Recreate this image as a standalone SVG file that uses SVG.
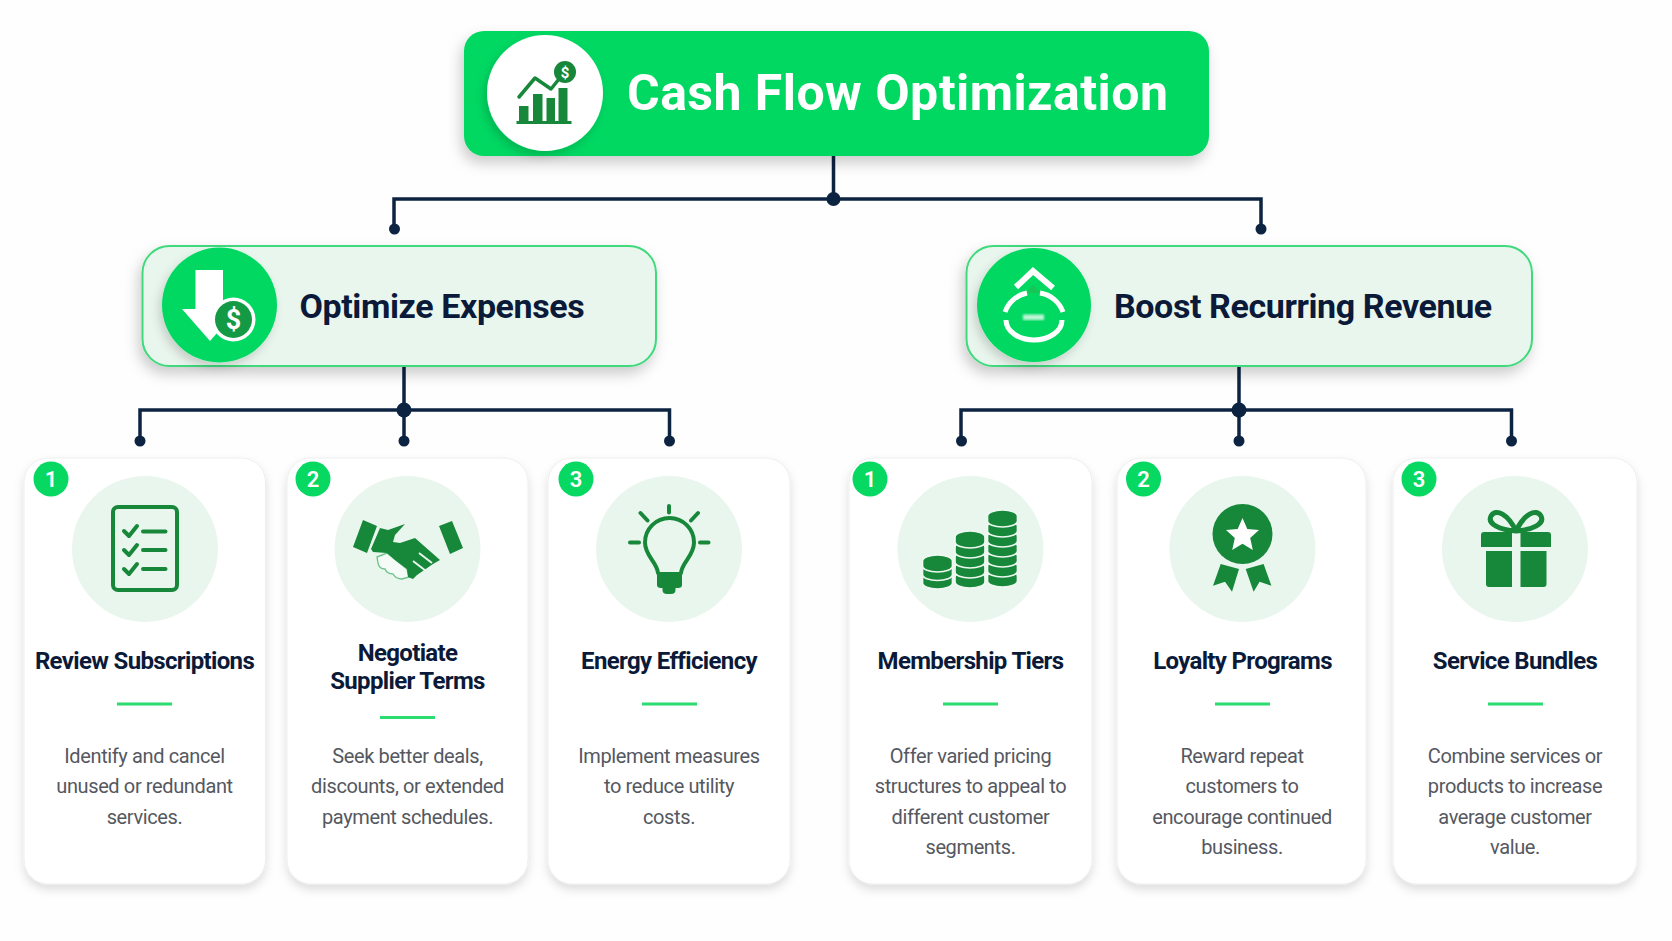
<svg xmlns="http://www.w3.org/2000/svg" width="1672" height="941" viewBox="0 0 1672 941">
<style>
text{font-family:Roboto,"Liberation Sans",sans-serif;text-anchor:middle}
.main{font-size:50px;font-weight:700;fill:#fff;text-anchor:start;letter-spacing:.45px}
.sub{font-size:34px;font-weight:700;fill:#0b1a38;text-anchor:start;letter-spacing:-.4px}
.ttl{font-size:24px;font-weight:700;fill:#0b1a38;letter-spacing:-.65px}
.dsc{font-size:20px;fill:#55585f;letter-spacing:-.38px}
.num{font-size:22px;font-weight:600;fill:#fff}
.card{fill:#fff;stroke:#eeeeef;stroke-width:1;filter:url(#sc)}
.subbox{fill:#e9f6ed;stroke:#3fd97c;stroke-width:2;filter:url(#sm)}
.disc{fill:#06d862}
.soft{fill:#e9f6ed}
.rule{fill:#2bdc70}
.ink{fill:#17873a}
.inkline{fill:none;stroke:#17873a;stroke-width:4;stroke-linecap:round;stroke-linejoin:round}
.wire{fill:none;stroke:#0d2342;stroke-width:3.5}
.dot{fill:#0d2342}
.ring{fill:none;stroke:#fff;stroke-width:5}
</style>
<defs>
<filter id="sc" x="-15%" y="-10%" width="130%" height="120%"><feDropShadow dx="0" dy="5" stdDeviation="5" flood-color="#000" flood-opacity=".13"/></filter>
<filter id="sm" x="-10%" y="-20%" width="120%" height="150%"><feDropShadow dx="-3" dy="7" stdDeviation="7" flood-color="#000" flood-opacity=".2"/></filter>
<filter id="sd" x="-30%" y="-30%" width="160%" height="160%"><feDropShadow dx="-3" dy="5" stdDeviation="5" flood-color="#000" flood-opacity=".16"/></filter>
<filter id="bl"><feGaussianBlur stdDeviation="1.2"/></filter>
<path id="coin" class="ink" stroke="#eef8f1" stroke-width="1.7" d="M-15,0A15,6 0 0 1 15,0V5A15,6 0 0 1 -15,5Z"/>
</defs>
<rect width="1672" height="941" fill="#fdfefd"/>
<g id="connectors">
<path class="wire" d="M833.500,156V199M394,228V199H1261V228"/>
<path class="wire" d="M404,366V441M140,441V410H669.500V441"/>
<path class="wire" d="M1239,366V441M961,441V410H1511.500V441"/>
<circle class="dot" cx="833.500" cy="199" r="7"/><circle class="dot" cx="394.500" cy="229" r="5.500"/><circle class="dot" cx="1261" cy="229" r="5.500"/>
<circle class="dot" cx="404" cy="410" r="7.500"/><circle class="dot" cx="140" cy="441" r="5.500"/><circle class="dot" cx="404" cy="441" r="5.500"/><circle class="dot" cx="669.500" cy="441" r="5.500"/>
<circle class="dot" cx="1239" cy="410" r="7.500"/><circle class="dot" cx="961.500" cy="441" r="5.500"/><circle class="dot" cx="1239" cy="441" r="5.500"/><circle class="dot" cx="1511.500" cy="441" r="5.500"/>
</g>
<g id="node-root">
<rect x="464" y="31" width="745" height="125" rx="20" fill="#06d862" filter="url(#sm)"/>
<circle cx="545" cy="93" r="58" fill="#fff" filter="url(#sd)"/>
<path class="ink" d="M519,106h9.500v16h-9.500zM533,94h9.500v28h-9.500zM546.500,98h8.500v24h-8.500zM558.500,88h9v34h-9zM516.500,121h55v3h-55z"/>
<path class="inkline" style="stroke-width:3.500" d="M519,97L535,78L551,89L563,74"/>
<circle class="ink" cx="565" cy="72" r="11"/>
<text x="565" y="77.500" style="font-size:15px;font-weight:700;fill:#fff">$</text>
<text class="main" x="627" y="109.500">Cash Flow Optimization</text>
</g>
<g id="node-expenses">
<rect class="subbox" x="142.500" y="246" width="513.500" height="120" rx="27"/>
<circle class="disc" cx="219.500" cy="305" r="57.500" filter="url(#sd)"/>
<path fill="#fff" d="M195.500,270H223V309H238L210,341L182,309H195.500Z"/>
<circle cx="233.500" cy="319.500" r="22" fill="#fff"/>
<circle cx="233.500" cy="319.500" r="18.500" fill="#149a44"/>
<text x="233.500" y="329" style="font-size:27px;font-weight:700;fill:#fff">$</text>
<text class="sub" x="299.500" y="317.500">Optimize Expenses</text>
</g>
<g id="node-revenue">
<rect class="subbox" x="966.500" y="246" width="565.500" height="120" rx="27"/>
<circle class="disc" cx="1034" cy="305" r="57" filter="url(#sd)"/>
<path d="M1033,285L1026,293H1041Z" fill="#16c657"/>
<path class="ring" style="stroke-width:6" d="M1016,287L1033,271L1053,288"/>
<path class="ring" d="M1005,312A29,29 0 0 1 1027,293M1040,293A29,29 0 0 1 1063,312"/>
<path class="ring" d="M1006,320A28,20 0 0 0 1062,320"/>
<rect x="1023" y="314.500" width="21" height="5.500" fill="#fff" opacity=".75" filter="url(#bl)"/>
<text class="sub" x="1114" y="317.500">Boost Recurring Revenue</text>
</g>
<g id="card-review">
<rect class="card" x="24" y="458" width="241.500" height="426" rx="24"/>
<circle class="soft" cx="145" cy="549" r="73"/>
<circle class="disc" cx="51" cy="479" r="17.500"/><text class="num" x="51" y="487">1</text>
<rect x="113" y="507" width="64" height="83" rx="5" fill="none" stroke="#17873a" stroke-width="4"/>
<path class="inkline" d="M124,531L129,536L137,526M124,550L129,555L137,545M124,569L129,574L137,564M143,531.500H165.500M143,550H165.500M143,569H165.500"/>
<text class="ttl" x="144.500" y="668.500">Review Subscriptions</text>
<rect class="rule" x="117" y="702.500" width="55" height="3"/>
<text class="dsc" x="144.500" y="762.500">Identify and cancel</text>
<text class="dsc" x="144.500" y="793">unused or redundant</text>
<text class="dsc" x="144.500" y="823.500">services.</text>
</g>
<g id="card-negotiate">
<rect class="card" x="287" y="458" width="241" height="426" rx="24"/>
<circle class="soft" cx="407.500" cy="549" r="73"/>
<circle class="disc" cx="313" cy="479" r="17.500"/><text class="num" x="313" y="487">2</text>
<path class="ink" d="M363,520L377,526L367,553L353,547ZM439,526L452,521L463,548L450,554Z"/>
<path fill="#f5fbf6" stroke="#6fc48d" stroke-width="1.400" d="M377,557L387,553L407,569L409,577L402,579Q396,579 393,574Q387,574 385,569Q379,569 378,563Z"/>
<path class="ink" d="M380,528L388,530L405,524L395,535L393,542L400,543L415,538L440,560L433,564L417,575L413,579L408,577L407,569L395,560L387,553L373,552L371,549Z"/>
<path d="M419,553L432,563M413,561L426,571" stroke="#e9f6ed" stroke-width="2" fill="none"/>
<text class="ttl" x="407.500" y="660.500">Negotiate</text>
<text class="ttl" x="407.500" y="689">Supplier Terms</text>
<rect class="rule" x="380" y="716" width="55" height="3"/>
<text class="dsc" x="407.500" y="762.500">Seek better deals,</text>
<text class="dsc" x="407.500" y="793">discounts, or extended</text>
<text class="dsc" x="407.500" y="823.500">payment schedules.</text>
</g>
<g id="card-energy">
<rect class="card" x="548" y="458" width="242" height="426" rx="24"/>
<circle class="soft" cx="669" cy="549" r="73"/>
<circle class="disc" cx="576" cy="479" r="17.500"/><text class="num" x="576" y="487">3</text>
<path class="inkline" d="M658,573C657,562 645,556 645,542.500A24.500,24.500 0 0 1 694,542.500C694,556 682,562 681,573M669,506V512.500M640.500,513L647.500,520.500M698,513L691,520.500M630,542.500H639M700,542.500H708.500"/>
<path class="ink" d="M657,572H682V585Q682,588 678,588H661Q657,588 657,585ZM662.500,587H675.500V590Q675.500,594 671,594H667Q662.500,594 662.500,590Z"/>
<text class="ttl" x="669" y="668.500">Energy Efficiency</text>
<rect class="rule" x="642" y="702.500" width="55" height="3"/>
<text class="dsc" x="669" y="762.500">Implement measures</text>
<text class="dsc" x="669" y="793">to reduce utility</text>
<text class="dsc" x="669" y="823.500">costs.</text>
</g>
<g id="card-membership">
<rect class="card" x="849" y="458" width="243" height="426" rx="24"/>
<circle class="soft" cx="970.500" cy="549" r="73"/>
<circle class="disc" cx="870" cy="479" r="17.500"/><text class="num" x="870" y="487">1</text>
<use href="#coin" x="937.500" y="578"/><use href="#coin" x="937.500" y="569.500"/><use href="#coin" x="937.500" y="561"/>
<use href="#coin" x="970" y="577"/><use href="#coin" x="970" y="567"/><use href="#coin" x="970" y="557"/><use href="#coin" x="970" y="547"/><use href="#coin" x="970" y="537"/>
<use href="#coin" x="1002.500" y="576"/><use href="#coin" x="1002.500" y="566"/><use href="#coin" x="1002.500" y="556"/><use href="#coin" x="1002.500" y="546"/><use href="#coin" x="1002.500" y="536"/><use href="#coin" x="1002.500" y="526"/><use href="#coin" x="1002.500" y="516"/>
<text class="ttl" x="970.500" y="668.500">Membership Tiers</text>
<rect class="rule" x="943" y="702.500" width="55" height="3"/>
<text class="dsc" x="970.500" y="762.500">Offer varied pricing</text>
<text class="dsc" x="970.500" y="793">structures to appeal to</text>
<text class="dsc" x="970.500" y="823.500">different customer</text>
<text class="dsc" x="970.500" y="854">segments.</text>
</g>
<g id="card-loyalty">
<rect class="card" x="1117" y="458" width="249" height="426" rx="24"/>
<circle class="soft" cx="1242.500" cy="549" r="73"/>
<circle class="disc" cx="1143.500" cy="479" r="17.500"/><text class="num" x="1143.500" y="487">2</text>
<circle class="ink" cx="1242.500" cy="534" r="30"/>
<path fill="#fff" d="M1242.500,518L1247.300,529L1259,530L1250.200,538L1252.800,550L1242.500,543.700L1232.200,550L1234.800,538L1226,530L1237.700,529Z"/>
<path class="ink" d="M1220.700,564L1239,569L1232,591.700L1225,581.700L1213,585.700ZM1245.700,569L1263.600,564L1271.400,585.700L1259.600,581.700L1253.600,591.700Z"/>
<text class="ttl" x="1242.500" y="668.500">Loyalty Programs</text>
<rect class="rule" x="1215" y="702.500" width="55" height="3"/>
<text class="dsc" x="1242" y="762.500">Reward repeat</text>
<text class="dsc" x="1242" y="793">customers to</text>
<text class="dsc" x="1242" y="823.500">encourage continued</text>
<text class="dsc" x="1242" y="854">business.</text>
</g>
<g id="card-bundles">
<rect class="card" x="1393" y="458" width="244" height="426" rx="24"/>
<circle class="soft" cx="1515" cy="549" r="73"/>
<circle class="disc" cx="1419" cy="479" r="17.500"/><text class="num" x="1419" y="487">3</text>
<path class="ink" d="M1484,532H1512V547H1481V535Q1481,532 1484,532ZM1520.500,532H1548Q1551,532 1551,535V547H1520.500ZM1486,551H1512V587H1489Q1486,587 1486,584ZM1520.500,551H1546.500V584Q1546.500,587 1543.500,587H1520.500Z"/>
<path class="inkline" style="stroke-width:5" d="M1516,531C1508,514 1496,508 1491,516C1487,524 1500,530 1516,531C1532,530 1545,524 1541,516C1536,508 1524,514 1516,531Z"/>
<text class="ttl" x="1515" y="668.500">Service Bundles</text>
<rect class="rule" x="1488" y="702.500" width="55" height="3"/>
<text class="dsc" x="1515" y="762.500">Combine services or</text>
<text class="dsc" x="1515" y="793">products to increase</text>
<text class="dsc" x="1515" y="823.500">average customer</text>
<text class="dsc" x="1515" y="854">value.</text>
</g>
</svg>
